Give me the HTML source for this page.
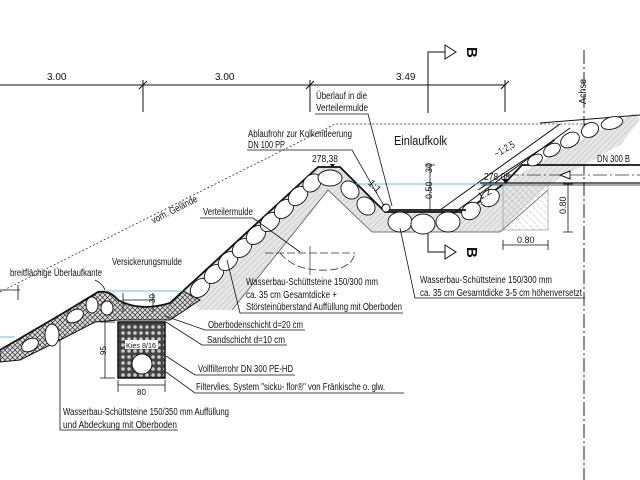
<!DOCTYPE html>
<html><head><meta charset="utf-8"><style>
html,body{margin:0;padding:0;background:#fff;}
svg{display:block;}
text{font-family:"Liberation Sans",sans-serif;font-size:10px;fill:#111;}
</style></head><body>
<svg width="640" height="480" viewBox="0 0 640 480" xmlns="http://www.w3.org/2000/svg">
<defs>
<pattern id="h" width="4" height="4" patternUnits="userSpaceOnUse" patternTransform="rotate(45)">
<rect width="4" height="4" fill="#e6e6e6"/><line x1="0" y1="0" x2="0" y2="4" stroke="#aaa" stroke-width="0.7"/></pattern>
<pattern id="h2" width="5" height="5" patternUnits="userSpaceOnUse" patternTransform="rotate(-45)">
<line x1="0" y1="0" x2="0" y2="5" stroke="#888" stroke-width="0.6" stroke-dasharray="2 1"/></pattern>
<pattern id="x" width="5" height="5" patternUnits="userSpaceOnUse">
<rect width="5" height="5" fill="#ddd"/><path d="M0 0L5 5M5 0L0 5" stroke="#333" stroke-width="0.7"/></pattern>
<pattern id="k" width="6" height="6" patternUnits="userSpaceOnUse">
<rect width="6" height="6" fill="#444"/><circle cx="3" cy="3" r="1.8" fill="#ccc"/></pattern>
</defs>

<g stroke="#111" stroke-width="1" fill="none">
<line x1="0" y1="85" x2="505" y2="85"/>
<line x1="143" y1="80" x2="143" y2="112"/><line x1="310" y1="80" x2="310" y2="112"/><line x1="505" y1="80" x2="505" y2="112"/>
<path d="M139 89L147 81M306 89L314 81M501 89L509 81"/>
<path d="M428 113V52H445" /><path d="M445 45L456 52L445 59Z"/>
<path d="M428 232V252H445"/><path d="M445 245L456 252L445 259Z"/>
</g>
<text x="47" y="80">3.00</text><text x="215" y="80">3.00</text><text x="396" y="80">3.49</text>
<text x="458" y="48" transform="rotate(90 463 52)" style="font-size:15px;font-weight:bold">B</text>
<text x="458" y="248" transform="rotate(90 463 252)" style="font-size:15px;font-weight:bold">B</text>
<line x1="584" y1="50" x2="584" y2="480" stroke="#222" stroke-width="1" stroke-dasharray="14 3 2 3"/>
<text x="566" y="104" transform="rotate(-90 576 94)" textLength="25" lengthAdjust="spacingAndGlyphs">Achse</text>

<path d="M0 292L335 124H587" fill="none" stroke="#333" stroke-width="0.8" stroke-dasharray="2 2"/>
<text x="150" y="215" transform="rotate(-27 170 212)" textLength="50" lengthAdjust="spacingAndGlyphs">vorh. Gelände</text>

<!-- gray sub-layers -->
<path d="M183 291L318 167H340L385 212H465L505 183L560 150L635 113L640 120L620 145L548 185L500 232H372L328 190L232 310L200 310Z" fill="url(#h)" stroke="none"/>
<path d="M232 310L328 190L372 232H500L548 190" fill="none" stroke="#555" stroke-width="0.8"/>
<g stroke="#111" stroke-width="1.8" fill="none">
<path d="M183 291L318 167H340L385 212H465L505 183L522 165H640"/>
<path d="M480 183H640" stroke-width="1.2"/>
<path d="M482 185H640" stroke-width="0.8"/>
</g>
<line x1="505" y1="175" x2="640" y2="175" stroke="#333" stroke-width="0.8" stroke-dasharray="14 3 2 3"/>
<path d="M560 175L570 171V179Z" fill="#fff" stroke="#111"/>
<g stroke="#111" stroke-width="1" fill="none">
<path d="M440 210L560 124"/><path d="M455 212L570 128"/><path d="M478 190L555 140"/>
<path d="M540 123L640 115"/>
</g>
<path d="M355 184H505" stroke="#5bc8d8" stroke-width="1"/>
<g fill="#fff" stroke="#111" stroke-width="0.9">
<ellipse cx="200" cy="288" rx="11" ry="8" transform="rotate(-44 200 288)"/>
<ellipse cx="214" cy="274" rx="11" ry="8" transform="rotate(-44 214 274)"/>
<ellipse cx="228" cy="261" rx="11" ry="8" transform="rotate(-44 228 261)"/>
<ellipse cx="242" cy="248" rx="11" ry="8" transform="rotate(-44 242 248)"/>
<ellipse cx="256" cy="235" rx="11" ry="8" transform="rotate(-44 256 235)"/>
<ellipse cx="270" cy="222" rx="11" ry="8" transform="rotate(-44 270 222)"/>
<ellipse cx="284" cy="209" rx="11" ry="8" transform="rotate(-44 284 209)"/>
<ellipse cx="298" cy="196" rx="11" ry="8" transform="rotate(-44 298 196)"/>
<ellipse cx="312" cy="183" rx="10" ry="8" transform="rotate(-44 312 183)"/>
<ellipse cx="330" cy="178" rx="12" ry="8"/>
<ellipse cx="350" cy="190" rx="10" ry="8" transform="rotate(45 350 190)"/>
<ellipse cx="366" cy="206" rx="10" ry="8" transform="rotate(45 366 206)"/>
<ellipse cx="400" cy="222" rx="12" ry="10"/>
<ellipse cx="423" cy="224" rx="12" ry="10"/>
<ellipse cx="448" cy="222" rx="12" ry="10"/>
<ellipse cx="471" cy="211" rx="10" ry="8" transform="rotate(-36 471 211)"/>
<ellipse cx="490" cy="198" rx="10" ry="8" transform="rotate(-36 490 198)"/>
<ellipse cx="535" cy="160" rx="8" ry="5" transform="rotate(-30 535 160)"/>
<ellipse cx="552" cy="150" rx="9" ry="6" transform="rotate(-30 552 150)"/>
<ellipse cx="570" cy="140" rx="10" ry="7" transform="rotate(-30 570 140)"/>
<ellipse cx="590" cy="130" rx="9" ry="7" transform="rotate(-30 590 130)"/>
<ellipse cx="612" cy="123" rx="11" ry="6" transform="rotate(-15 612 123)"/>
</g>
<path d="M383 210H466" stroke="#111" stroke-width="1.8"/>
<circle cx="386" cy="208" r="4" fill="#fff" stroke="#111"/>
<rect x="503" y="185" width="45" height="45" fill="url(#h2)" stroke="#888" stroke-width="0.6"/>
<path d="M265 253H355M280 253Q295 272 330 270Q352 268 355 253" fill="none" stroke="#333" stroke-width="0.8" stroke-dasharray="8 3"/>
<line x1="310" y1="246" x2="310" y2="275" stroke="#333" stroke-width="0.7"/>

<!-- lower left -->
<path d="M0 350L60 315L98 292Q110 290 118 300Q140 312 170 303L183 291L200 300L170 320H118L95 322L60 340L20 360L0 362Z" fill="url(#x)" stroke="#111" stroke-width="1"/>
<path d="M0 350L60 315L98 292Q110 290 118 300Q140 312 170 303L183 291" fill="none" stroke="#111" stroke-width="1.8"/>
<g fill="#fff" stroke="#111" stroke-width="0.9">
<ellipse cx="30" cy="345" rx="9" ry="6" transform="rotate(-30 30 345)"/>
<ellipse cx="52" cy="335" rx="7" ry="11"/>
<ellipse cx="75" cy="316" rx="9" ry="6" transform="rotate(-30 75 316)"/>
<ellipse cx="92" cy="305" rx="6" ry="8"/>
<ellipse cx="107" cy="308" rx="6" ry="7"/>
</g>
<path d="M105 291H183M0 337H15" stroke="#5bc8d8" stroke-width="1"/>
<rect x="118" y="322" width="47" height="56" fill="url(#k)" stroke="#111" stroke-width="1.5"/>
<circle cx="142" cy="364" r="10" fill="#fff" stroke="#111"/>
<rect x="125" y="340" width="33" height="9" fill="#fff"/>
<text x="126" y="348" style="font-size:7px" textLength="30" lengthAdjust="spacingAndGlyphs">Kies 8/16</text>
<g stroke="#111" stroke-width="0.8" fill="none">
<path d="M105 322V378M100 322H115M100 378H115"/>
<path d="M118 385H165M118 380V392M165 380V392"/>
<path d="M123 293V312M153 293V312M123 300H153"/>
<path d="M95 280Q103 284 105 290"/>
</g>
<text x="97" y="358" transform="rotate(-90 100 352)" style="font-size:8px">95</text>
<text x="137" y="395" style="font-size:8px">80</text>
<text x="147" y="305" transform="rotate(-90 150 300)" style="font-size:8px">30</text>

<g stroke="#111" stroke-width="0.8" fill="none">
<path d="M430 165V212M425 165H435"/>
<path d="M568 184V232M563 184H573M563 232H573"/>
<path d="M503 245H548M503 240V250M548 240V250"/>
</g>
<text x="421" y="196" transform="rotate(-90 428 192)" style="font-size:9px">0.50</text>
<text x="423" y="172" transform="rotate(-90 428 168)" style="font-size:9px">30</text>
<text x="556" y="212" transform="rotate(-90 562 208)" style="font-size:9px">0.80</text>
<text x="517" y="243" style="font-size:9px">0.80</text>
<path d="M332 168L330 164H335Z M505 183L502 179H508Z" fill="#111"/>
<text x="312" y="162" textLength="26" lengthAdjust="spacingAndGlyphs">278,38</text>
<text x="484" y="180" textLength="26" lengthAdjust="spacingAndGlyphs">278,08</text>
<text x="493" y="152" transform="rotate(-30 505 148)" textLength="22" lengthAdjust="spacingAndGlyphs">~1:2,5</text>
<text x="478" y="198" transform="rotate(-30 483 195)">1:2</text>
<text x="368" y="188" transform="rotate(45 373 185)">1:1</text>
<text x="394" y="145" style="font-size:13px" textLength="53" lengthAdjust="spacingAndGlyphs">Einlaufkolk</text>
<text x="597" y="162" textLength="33" lengthAdjust="spacingAndGlyphs">DN 300 B</text>

<g stroke="#111" stroke-width="0.8" fill="none">
<path d="M315 114H368L392 206"/>
<path d="M247 150H352L384 206"/>
<path d="M200 218H253L300 252"/>
<path d="M403 313H240L227 260"/>
<path d="M585 298H415L400 228"/>
<path d="M305 330H205L165 316"/>
<path d="M287 345H202L166 322"/>
<path d="M295 375H195L166 356"/>
<path d="M404 393H195L166 372"/>
<path d="M178 430H60V340"/>
<path d="M0 290H20M18 285V300"/>
</g>
<text x="10" y="276" textLength="92" lengthAdjust="spacingAndGlyphs">breitflächige Überlaufkante</text>
<text x="112" y="265" textLength="70" lengthAdjust="spacingAndGlyphs">Versickerungsmulde</text>
<text x="203" y="215" textLength="50" lengthAdjust="spacingAndGlyphs">Verteilermulde</text>
<text x="248" y="137" textLength="104" lengthAdjust="spacingAndGlyphs">Ablaufrohr zur Kolkentleerung</text>
<text x="248" y="148" textLength="37" lengthAdjust="spacingAndGlyphs">DN 100 PP</text>
<text x="316" y="99" textLength="51" lengthAdjust="spacingAndGlyphs">Überlauf in die</text>
<text x="316" y="111" textLength="52" lengthAdjust="spacingAndGlyphs">Verteilermulde</text>
<text x="246" y="285" textLength="132" lengthAdjust="spacingAndGlyphs">Wasserbau-Schüttsteine 150/300 mm</text>
<text x="246" y="298" textLength="91" lengthAdjust="spacingAndGlyphs">ca. 35 cm  Gesamtdicke +</text>
<text x="246" y="310" textLength="156" lengthAdjust="spacingAndGlyphs">Störsteinüberstand Auffüllung mit Oberboden</text>
<text x="420" y="283" textLength="132" lengthAdjust="spacingAndGlyphs">Wasserbau-Schüttsteine 150/300 mm</text>
<text x="420" y="296" textLength="162" lengthAdjust="spacingAndGlyphs">ca. 35 cm  Gesamtdicke 3-5 cm höhenversetzt</text>
<text x="208" y="328" textLength="95" lengthAdjust="spacingAndGlyphs">Oberbodenschicht d=20 cm</text>
<text x="207" y="343" textLength="78" lengthAdjust="spacingAndGlyphs">Sandschicht  d=10 cm</text>
<text x="198" y="372" textLength="95" lengthAdjust="spacingAndGlyphs">Vollfilterrohr DN 300 PE-HD</text>
<text x="196" y="390" textLength="189" lengthAdjust="spacingAndGlyphs">Filtervlies, System "sicku- flor®" von Fränkische o. glw.</text>
<text x="63" y="415" textLength="166" lengthAdjust="spacingAndGlyphs">Wasserbau-Schüttsteine 150/350 mm Auffüllung</text>
<text x="63" y="428" textLength="114" lengthAdjust="spacingAndGlyphs">und Abdeckung mit Oberboden</text>
</svg>
</body></html>
